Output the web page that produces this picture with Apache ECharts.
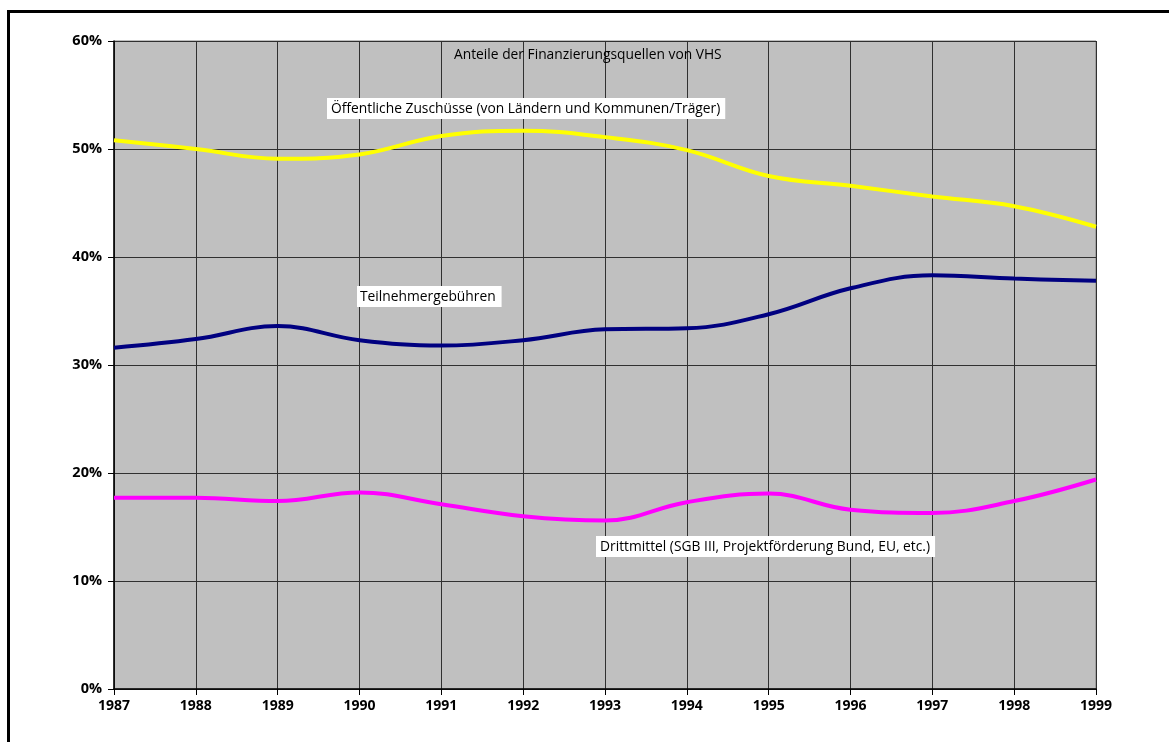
<!DOCTYPE html>
<html>
<head>
<meta charset="utf-8">
<script src="https://cdn.jsdelivr.net/npm/echarts@6/dist/echarts.min.js"></script>
<style>
  html, body { margin: 0; padding: 0; background: #fff; }
  #chart { width: 1169px; height: 742px; }
</style>
</head>
<body>
<div id="chart"></div>
<script>
  // Jahre (x-Achse)
  var years = ['1987', '1988', '1989', '1990', '1991', '1992', '1993',
               '1994', '1995', '1996', '1997', '1998', '1999'];

  // Anteile in %
  var oeffentlich = [50.8, 50.0, 49.1, 49.5, 51.2, 51.7, 51.1, 49.9, 47.5, 46.6, 45.6, 44.7, 42.8];
  var teilnehmer  = [31.6, 32.4, 33.6, 32.3, 31.8, 32.3, 33.3, 33.4, 34.7, 37.1, 38.3, 38.0, 37.8];
  var drittmittel = [17.7, 17.7, 17.4, 18.2, 17.1, 16.0, 15.6, 17.3, 18.1, 16.6, 16.3, 17.4, 19.4];

  var chart = echarts.init(document.getElementById('chart'));

  var labelFont = '13.8px "Open Sans", "DejaVu Sans", sans-serif';

  function lineSeries(name, data, color) {
    return {
      name: name,
      type: 'line',
      data: data,
      smooth: 0.4,
      symbol: 'none',
      lineStyle: { color: color, width: 4 },
      z: 3
    };
  }

  chart.setOption({
    animation: false,
    backgroundColor: '#ffffff',
    grid: {
      left: 114, right: 73, top: 41, bottom: 53,
      show: true,
      backgroundColor: '#c0c0c0',
      borderColor: '#808080',
      borderWidth: 1
    },
    xAxis: {
      type: 'category',
      data: years,
      boundaryGap: false,
      axisLine: { lineStyle: { color: '#000', width: 1.5 } },
      axisTick: { show: true, length: 6, lineStyle: { color: '#000' } },
      axisLabel: {
        color: '#000', fontSize: 14, fontWeight: 'bold',
        fontFamily: '"Open Sans", "DejaVu Sans", sans-serif', margin: 10
      },
      splitLine: { show: true, lineStyle: { color: '#303030', width: 1 } }
    },
    yAxis: {
      type: 'value',
      min: 0, max: 60, interval: 10,
      axisLine: { show: true, lineStyle: { color: '#000', width: 1.5 } },
      axisTick: { show: true, length: 6, lineStyle: { color: '#000' } },
      axisLabel: {
        color: '#000', fontSize: 14.5, fontWeight: 'bold',
        fontFamily: '"Open Sans", "DejaVu Sans", sans-serif', margin: 12,
        formatter: '{value}%'
      },
      splitLine: { show: true, lineStyle: { color: '#303030', width: 1 } }
    },
    series: [
      lineSeries('Öffentliche Zuschüsse', oeffentlich, '#ffff00'),
      lineSeries('Teilnehmergebühren', teilnehmer, '#000080'),
      lineSeries('Drittmittel', drittmittel, '#ff00ff')
    ],
    graphic: [
      // Rahmen
      {
        type: 'rect', silent: true,
        shape: { x: 8.5, y: 11.5, width: 1300, height: 900 },
        style: { fill: 'none', stroke: '#000', lineWidth: 3 },
        z: 10
      },
      {
        type: 'text', left: 454, top: 48, z: 20,
        style: { text: 'Anteile der Finanzierungsquellen von VHS', font: labelFont, fill: '#000' }
      },
      {
        type: 'text', left: 327, top: 98, z: 20,
        style: {
          text: 'Öffentliche Zuschüsse (von Ländern und Kommunen/Träger)',
          font: labelFont, fill: '#000', backgroundColor: '#fff', padding: [4, 5, 3, 4]
        }
      },
      {
        type: 'text', left: 357, top: 286, z: 20,
        style: {
          text: 'Teilnehmergebühren',
          font: labelFont, fill: '#000', backgroundColor: '#fff', padding: [4, 6, 3, 3]
        }
      },
      {
        type: 'text', left: 596, top: 536, z: 20,
        style: {
          text: 'Drittmittel (SGB III, Projektförderung Bund, EU, etc.)',
          font: labelFont, fill: '#000', backgroundColor: '#fff', padding: [4, 5, 3, 4]
        }
      }
    ]
  });

  window.addEventListener('resize', function() { chart.resize(); });
</script>
</body>
</html>
